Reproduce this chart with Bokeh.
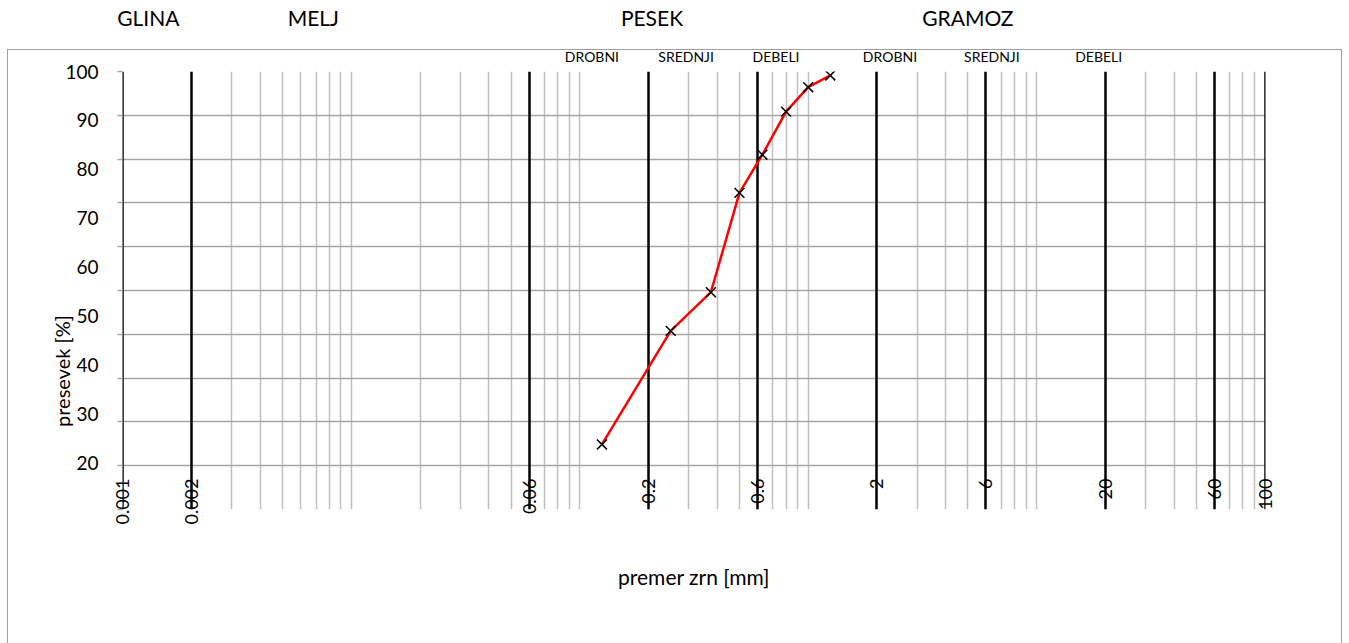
import numpy as np
from bokeh.plotting import figure
from bokeh.models import FixedTicker, Grid, LogAxis, LinearAxis, Range1d
from bokeh.embed import file_html
from bokeh.resources import INLINE

# ---- data ----
grain_mm = [0.125, 0.25, 0.375, 0.5, 0.63, 0.8, 1.0, 1.25]
passing_pct = [23.8, 47.0, 54.9, 75.2, 83.0, 91.8, 96.8, 99.2]

bound_ticks = [0.001, 0.002, 0.06, 0.2, 0.6, 2, 6, 20, 60, 100]
bound_labels = ["0.001", "0.002", "0.06", "0.2", "0.6", "2", "6", "20", "60", "100"]
y_tick_values = [20, 30, 40, 50, 60, 70, 80, 90, 100]

main_classes = ["GLINA", "MELJ", "PESEK", "GRAMOZ"]
main_class_x = [0.00129, 0.00681, 0.207, 5.0]
sub_classes = ["DROBNI", "SREDNJI", "DEBELI", "DROBNI", "SREDNJI", "DEBELI"]
sub_class_x = [0.113, 0.292, 0.723, 2.28, 6.37, 18.7]

y_title_pos = 50.2

Y_START, Y_END = 10.5, 100
FONT = "Lato"

minor_x = [n * 10.0 ** k for k in range(-3, 2) for n in range(1, 10)]
minor_x = [v for v in minor_x if not any(np.isclose(v, b) for b in bound_ticks)]
hgrid = list(np.linspace(Y_START, Y_END, 11))

p = figure(width=1343, height=643, x_axis_type="log",
           x_range=Range1d(0.000995, 100.5), y_range=Range1d(Y_START, Y_END),
           x_axis_location=None, output_backend="svg", toolbar_location=None,
           min_border_left=122, min_border_right=78, min_border_top=71, min_border_bottom=134)
p.outline_line_color = None
for g in p.grid:
    g.visible = False

p.stylesheets = [
    ":host { overflow: hidden; }"
    ":host::after { content: ''; position: absolute; left: 7px; top: 49px; width: 1335px;"
    " height: 700px; border: 1.5px solid #a0a0a0; box-sizing: border-box; pointer-events: none; }"
]

p.add_layout(Grid(dimension=0, ticker=FixedTicker(ticks=minor_x),
                  grid_line_color="#c0c0c0", grid_line_width=1.5))
p.add_layout(Grid(dimension=1, ticker=FixedTicker(ticks=hgrid),
                  grid_line_color="#a6a6a6", grid_line_width=1.5))
p.add_layout(Grid(dimension=0, ticker=FixedTicker(ticks=bound_ticks),
                  grid_line_color="black", grid_line_width=2.5))


def quiet(axis):
    axis.axis_line_color = None
    axis.major_tick_line_color = None
    axis.minor_tick_line_color = None
    axis.major_tick_out = 0
    axis.major_tick_in = 0
    axis.minor_tick_out = 0
    axis.minor_tick_in = 0
    axis.major_label_text_font = FONT
    axis.major_label_text_color = "black"
    return axis


# y axis with labels, and small ticks at the grid lines
ax = p.yaxis[0]
ax.ticker = FixedTicker(ticks=y_tick_values, minor_ticks=hgrid)
ax.axis_line_color = None
ax.major_tick_out = 0
ax.major_tick_in = 0
ax.minor_tick_out = 5
ax.minor_tick_in = 0
ax.minor_tick_line_color = "#a6a6a6"
ax.minor_tick_line_width = 1.5
ax.major_label_standoff = 19
ax.major_label_text_font = FONT
ax.major_label_text_font_size = "19px"
ax.major_label_text_color = "black"

# y title
yt = quiet(LinearAxis(ticker=FixedTicker(ticks=[y_title_pos]),
                      major_label_overrides={y_title_pos: "presevek [%]"}))
yt.major_label_orientation = np.pi / 2
yt.major_label_standoff = 0
yt.major_label_text_font_size = "20px"
p.add_layout(yt, "left")

# bottom x axis: boundary labels inside the frame bottom + title
xb = quiet(LogAxis(ticker=FixedTicker(ticks=bound_ticks),
                   major_label_overrides=dict(zip(bound_ticks, bound_labels))))
xb.major_label_orientation = np.pi / 2
xb.major_label_standoff = -31
xb.major_label_text_font_size = "18px"
xb.axis_label = "premer zrn [mm]"
xb.axis_label_text_font = FONT
xb.axis_label_text_font_style = "normal"
xb.axis_label_text_font_size = "21px"
xb.axis_label_text_color = "black"
xb.axis_label_standoff = 36
p.add_layout(xb, "below")

# soil class labels above the frame
xs = quiet(LogAxis(ticker=FixedTicker(ticks=sub_class_x),
                   major_label_overrides=dict(zip(sub_class_x, sub_classes))))
xs.major_label_standoff = 7
xs.major_label_text_font_size = "14px"
p.add_layout(xs, "above")

xm = quiet(LogAxis(ticker=FixedTicker(ticks=main_class_x),
                   major_label_overrides=dict(zip(main_class_x, main_classes))))
xm.major_label_standoff = 15
xm.major_label_text_font_size = "21px"
p.add_layout(xm, "above")

# series
p.line(grain_mm, passing_pct, line_color="#ff0000", line_width=2.5)
p.scatter(grain_mm, passing_pct, marker="x", size=14, line_color="black", line_width=1.5)

open("out.html", "w").write(file_html(p, INLINE))
